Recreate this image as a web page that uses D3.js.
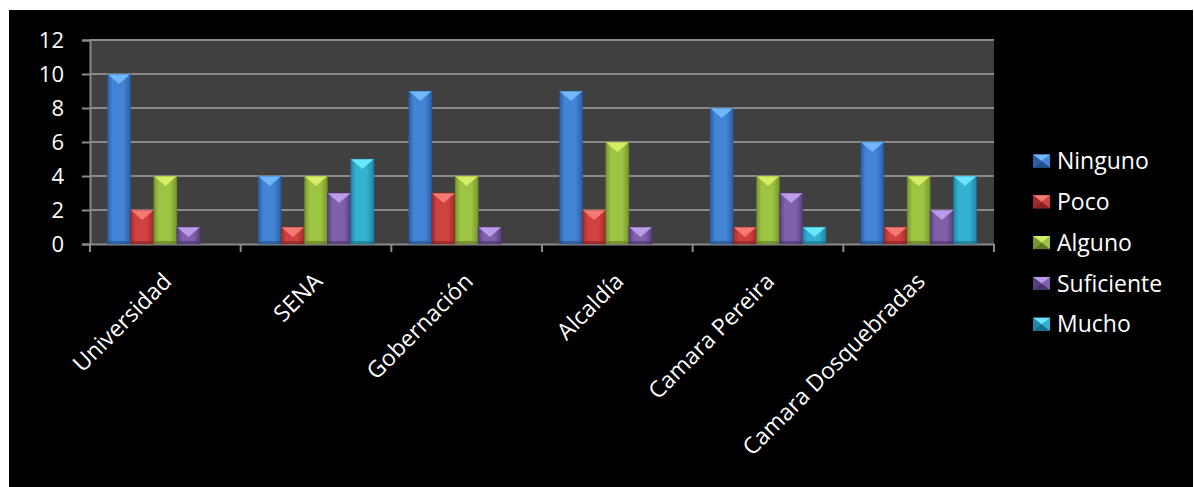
<!DOCTYPE html>
<html>
<head>
<meta charset="utf-8">
<script src="https://cdn.jsdelivr.net/npm/d3@7"></script>
<style>
  body { margin: 0; background: #fff; }
  text { font-family: "Open Sans", sans-serif; fill: #fff; }
</style>
</head>
<body>
<svg id="mainSvg" width="1194" height="487"></svg>
<script>
// chart data
const categories = ["Universidad", "SENA", "Gobernación", "Alcaldía", "Camara Pereira", "Camara Dosquebradas"];
const seriesNames = ["Ninguno", "Poco", "Alguno", "Suficiente", "Mucho"];
const ninguno = [10, 4, 9, 9, 8, 6];
const poco = [2, 1, 3, 2, 1, 1];
const alguno = [4, 4, 4, 6, 4, 4];
const suficiente = [1, 3, 1, 1, 3, 2];
const mucho = [0, 5, 0, 0, 1, 4];
const yTicks = [0, 2, 4, 6, 8, 10, 12];

// colours for each series: edge, body, top highlight, bottom shade
const palette = {
    Ninguno:    {edge: "#2a5ea6", body: "#4384d4", top: "#6fb6fa", low: "#234f8c"},
    Poco:       {edge: "#9e2a2a", body: "#d0423f", top: "#f47a72", low: "#862222"},
    Alguno:     {edge: "#76952e", body: "#9ec443", top: "#d6ee66", low: "#5f7a24"},
    Suficiente: {edge: "#583d7e", body: "#8060ab", top: "#bb9ce8", low: "#48326a"},
    Mucho:      {edge: "#1f86a6", body: "#33b0d2", top: "#6ae6fa", low: "#1a6f8a"}
};

let allSeries = [ninguno, poco, alguno, suficiente, mucho];
let rows = categories.map((c, i) => {
    return {cat: c, values: seriesNames.map((s, j) => ({key: s, value: allSeries[j][i]}))};
});

let svg = d3.select("#mainSvg");

// black chart frame
svg.append("rect").attr("x", 9).attr("y", 10).attr("width", 1184).attr("height", 477).attr("fill", "#000");

let plot = {left: 90, right: 994, top: 40, bottom: 244};

let x0 = d3.scaleBand().domain(categories).range([plot.left, plot.right]);
let x1 = d3.scaleBand().domain(seriesNames).range([0, x0.bandwidth()]).paddingInner(0).paddingOuter(0.75);
let y = d3.scaleLinear().domain([0, 12]).range([plot.bottom, plot.top]);

// gradients
let defs = svg.append("defs");
seriesNames.forEach(s => {
    let p = palette[s];
    let g = defs.append("linearGradient").attr("id", "grad-" + s).attr("x1", "0").attr("x2", "1").attr("y1", "0").attr("y2", "0");
    g.append("stop").attr("offset", "0%").attr("stop-color", p.edge);
    g.append("stop").attr("offset", "22%").attr("stop-color", p.body);
    g.append("stop").attr("offset", "70%").attr("stop-color", p.body);
    g.append("stop").attr("offset", "100%").attr("stop-color", p.edge);
});

// plot area
svg.append("rect")
    .attr("x", plot.left).attr("y", plot.top)
    .attr("width", plot.right - plot.left).attr("height", plot.bottom - plot.top)
    .attr("fill", "#404040");

// gridlines
svg.append("g").selectAll("line")
    .data(yTicks.filter(d => d > 0))
    .enter()
        .append("line")
        .attr("x1", plot.left).attr("x2", plot.right)
        .attr("y1", d => y(d)).attr("y2", d => y(d))
        .attr("stroke", "#8a8a8a").attr("stroke-width", 2);

// y axis
let yAxis = svg.append("g")
    .attr("transform", `translate(${plot.left},0)`)
    .call(d3.axisLeft(y).tickValues(yTicks).tickSize(8).tickPadding(18));
yAxis.select(".domain").attr("stroke", "#8a8a8a").attr("stroke-width", 2);
yAxis.selectAll(".tick line").attr("stroke", "#8a8a8a").attr("stroke-width", 2);
yAxis.selectAll(".tick text").attr("font-size", 22).attr("font-family", "Open Sans").attr("fill", "#fff").attr("dy", "0.36em");

// x axis
let xAxis = svg.append("g")
    .attr("transform", `translate(0,${plot.bottom})`)
    .call(d3.axisBottom(x0).tickSize(0).tickFormat(""));
xAxis.select(".domain").attr("stroke", "#8a8a8a").attr("stroke-width", 2);
xAxis.selectAll(".tick").remove();

let edges = categories.map(c => x0(c)).concat([plot.right]);
svg.append("g").selectAll("line")
    .data(edges)
    .enter()
        .append("line")
        .attr("x1", d => d).attr("x2", d => d)
        .attr("y1", plot.bottom).attr("y2", plot.bottom + 8)
        .attr("stroke", "#8a8a8a").attr("stroke-width", 2);

// category labels
svg.append("g").selectAll("text")
    .data(categories)
    .enter()
        .append("text")
        .attr("transform", d => `translate(${x0(d) + x0.bandwidth() / 2 - 4},${plot.bottom + 27}) rotate(-45)`)
        .attr("text-anchor", "end")
        .attr("dy", "0.72em")
        .attr("font-size", 23)
        .text(d => d);

// bars
let groups = svg.append("g").selectAll("g")
    .data(rows)
    .enter()
        .append("g")
        .attr("transform", d => `translate(${x0(d.cat)},0)`);

let bars = groups.selectAll("g")
    .data(d => d.values.filter(v => v.value > 0))
    .enter()
        .append("g");

bars.append("rect")
    .attr("x", d => x1(d.key))
    .attr("y", d => y(d.value))
    .attr("width", x1.bandwidth())
    .attr("height", d => y(0) - y(d.value))
    .attr("fill", d => `url(#grad-${d.key})`);

// bottom shading strip
bars.append("rect")
    .attr("x", d => x1(d.key))
    .attr("y", d => y(0) - 3)
    .attr("width", x1.bandwidth())
    .attr("height", 3)
    .attr("fill", d => palette[d.key].low)
    .attr("opacity", 0.6);

// bevel on the top of each bar
bars.append("polygon")
    .attr("points", d => {
        let bx = x1(d.key), bw = x1.bandwidth(), by = y(d.value);
        let depth = Math.min(bw / 2 - 1, 10, (y(0) - by) * 0.6);
        return [[bx, by], [bx + bw, by], [bx + bw / 2, by + depth]].map(p => p.join(",")).join(" ");
    })
    .attr("fill", d => palette[d.key].top);

bars.append("rect")
    .attr("x", d => x1(d.key))
    .attr("y", d => y(d.value))
    .attr("width", x1.bandwidth())
    .attr("height", d => y(0) - y(d.value))
    .attr("fill", "none")
    .attr("stroke", d => palette[d.key].low)
    .attr("stroke-opacity", 0.5)
    .attr("stroke-width", 1);

// legend
let legend = svg.append("g").selectAll("g")
    .data(seriesNames)
    .enter()
        .append("g")
        .attr("transform", (d, i) => `translate(1033,${161 + i * 40.8})`);

let sw = 17, sh = 13;
legend.append("rect")
    .attr("x", 0).attr("y", -sh / 2)
    .attr("width", sw).attr("height", sh)
    .attr("fill", d => palette[d].body);
legend.append("polygon")
    .attr("points", `0,${-sh / 2} ${sw},${-sh / 2} ${sw / 2},0`)
    .attr("fill", d => palette[d].top);
legend.append("polygon")
    .attr("points", `0,${sh / 2} ${sw},${sh / 2} ${sw / 2},0`)
    .attr("fill", d => palette[d].low);
legend.append("polygon")
    .attr("points", `0,${-sh / 2} 0,${sh / 2} ${sw / 2},0`)
    .attr("fill", d => palette[d].edge);

legend.append("text")
    .attr("x", 24)
    .attr("dy", "0.36em")
    .attr("font-size", 23)
    .text(d => d);
</script>
</body>
</html>
